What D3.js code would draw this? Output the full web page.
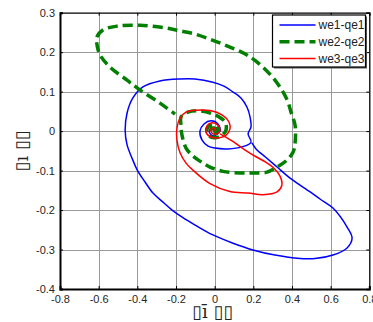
<!DOCTYPE html>
<html>
<head>
<meta charset="utf-8">
<script src="https://cdn.jsdelivr.net/npm/d3@7"></script>
<style>
  body { margin: 0; background: #fff; }
  svg { display: block; font-family: "Liberation Sans", Arial, sans-serif; }
  .grid line { stroke: #9a9a9a; stroke-width: 1; shape-rendering: crispEdges; }
  .tick-label { font-size: 11px; fill: #262626; }
</style>
</head>
<body>
<div id="chart"></div>
<script>
var xTicks = [-0.8, -0.6, -0.4, -0.2, 0, 0.2, 0.4, 0.6, 0.8],
    yTicks = [-0.4, -0.3, -0.2, -0.1, 0, 0.1, 0.2, 0.3];

var seriesNames = ["we1-qe1", "we2-qe2", "we3-qe3"];

// we1-qe1 (blue)
var blueX = [0.002,-0.009,-0.029,-0.009,0.028,0.017,-0.019,-0.055,-0.076,-0.065,-0.034,0.002,0.069,0.141,0.188,0.173,0.188,0.183,0.167,0.136,0.095,0.048,-0.009,-0.102,-0.179,-0.283,-0.371,-0.423,-0.453,-0.463,-0.453,-0.427,-0.401,-0.360,-0.319,-0.267,-0.220,-0.168,-0.101,-0.009,0.095,0.198,0.312,0.426,0.519,0.612,0.685,0.711,0.685,0.612,0.545,0.494,0.390,0.323,0.261,0.214,0.193];
var blueY = [0.000,0.008,0.000,-0.012,0.000,0.018,0.026,0.018,0.000,-0.023,-0.038,-0.043,-0.045,-0.040,-0.028,-0.007,0.010,0.036,0.061,0.084,0.099,0.114,0.124,0.132,0.132,0.127,0.112,0.084,0.046,0.003,-0.035,-0.069,-0.098,-0.129,-0.157,-0.180,-0.200,-0.218,-0.238,-0.263,-0.284,-0.301,-0.314,-0.322,-0.323,-0.314,-0.296,-0.271,-0.243,-0.195,-0.172,-0.154,-0.119,-0.091,-0.065,-0.045,-0.030];

// we2-qe2 (green dashed)
var greenX = [-0.009,0.002,-0.003,-0.019,-0.019,0.002,0.017,0.007,-0.019,-0.040,-0.034,-0.003,0.033,0.059,0.054,0.002,-0.071,-0.138,-0.174,-0.174,-0.169,-0.148,-0.117,-0.076,-0.024,0.043,0.131,0.198,0.271,0.323,0.375,0.406,0.416,0.416,0.395,0.375,0.323,0.250,0.167,0.079,-0.009,-0.102,-0.179,-0.251,-0.386,-0.505,-0.578,-0.609,-0.609,-0.593,-0.541,-0.453,-0.386,-0.283,-0.205];
var greenY = [0.000,0.003,0.008,0.005,-0.005,-0.007,0.000,0.013,0.015,0.005,-0.010,-0.017,-0.012,0.003,0.023,0.041,0.051,0.048,0.036,0.015,-0.010,-0.043,-0.061,-0.076,-0.091,-0.102,-0.106,-0.106,-0.104,-0.091,-0.073,-0.053,-0.030,0.015,0.048,0.079,0.122,0.162,0.193,0.213,0.230,0.246,0.254,0.261,0.268,0.266,0.256,0.238,0.220,0.193,0.162,0.129,0.104,0.071,0.043];

// we3-qe3 (red)
var redX = [0.028,0.090,0.152,0.214,0.266,0.307,0.338,0.348,0.323,0.250,0.173,0.079,-0.024,-0.112,-0.148,-0.179,-0.195,-0.195,-0.179,-0.148,-0.096,-0.024,0.038,0.074,0.079,0.059,0.023,-0.019,-0.045,-0.040,-0.014,0.017,0.028,0.012,-0.014,-0.019,-0.003,0.002];
var redY = [-0.007,-0.025,-0.046,-0.065,-0.079,-0.094,-0.114,-0.137,-0.154,-0.161,-0.157,-0.153,-0.133,-0.099,-0.081,-0.055,-0.023,0.008,0.033,0.048,0.053,0.052,0.041,0.023,0.005,-0.010,-0.017,-0.015,-0.002,0.013,0.021,0.015,0.003,-0.007,-0.005,0.005,0.008,0.000];

(function() {
  var width = 373, height = 322,
      pL = 60, pR = 369.3, pT = 12.7, pB = 289;

  var x = d3.scaleLinear().domain([-0.8, 0.8]).range([pL, pR]);
  var y = d3.scaleLinear().domain([-0.4, 0.3]).range([pB, pT]);
  var fmt = function(d) { return String(d); };

  var svg = d3.select("#chart").append("svg")
      .attr("width", width)
      .attr("height", height);

  // grid
  var grid = svg.append("g").attr("class", "grid");
  grid.selectAll(".gx").data(xTicks.slice(1, -1)).enter().append("line")
      .attr("x1", function(d) { return Math.round(x(d)) + 0.5; })
      .attr("x2", function(d) { return Math.round(x(d)) + 0.5; })
      .attr("y1", pT).attr("y2", pB);
  grid.selectAll(".gy").data(yTicks.slice(1, -1)).enter().append("line")
      .attr("y1", function(d) { return Math.round(y(d)) + 0.5; })
      .attr("y2", function(d) { return Math.round(y(d)) + 0.5; })
      .attr("x1", pL).attr("x2", pR);

  // curves
  function pts(xs, ys) {
    return xs.map(function(v, i) { return [v, ys[i]]; });
  }
  var line = d3.line()
      .x(function(d) { return x(d[0]); })
      .y(function(d) { return y(d[1]); })
      .curve(d3.curveCatmullRom.alpha(0.5));

  svg.append("clipPath").attr("id", "clip")
      .append("rect").attr("x", pL).attr("y", pT)
      .attr("width", pR - pL).attr("height", pB - pT);

  var plot = svg.append("g").attr("clip-path", "url(#clip)");

  plot.append("path")
      .attr("d", line(pts(blueX, blueY)))
      .attr("fill", "none").attr("stroke", "#0000ff").attr("stroke-width", 1.5);
  plot.append("path")
      .attr("d", line(pts(greenX, greenY)))
      .attr("fill", "none").attr("stroke", "#007f00").attr("stroke-width", 3.5)
      .attr("stroke-dasharray", "10,5");
  plot.append("path")
      .attr("d", line(pts(redX, redY)))
      .attr("fill", "none").attr("stroke", "#ff0000").attr("stroke-width", 1.5);

  // axes box
  var xAxisB = d3.axisBottom(x).tickValues(xTicks).tickSize(-3).tickFormat(fmt).tickPadding(6);
  var xAxisT = d3.axisTop(x).tickValues(xTicks).tickSize(-3).tickFormat("");
  var yAxisL = d3.axisLeft(y).tickValues(yTicks).tickSize(-3).tickFormat(fmt).tickPadding(5);
  var yAxisR = d3.axisRight(y).tickValues(yTicks).tickSize(-3).tickFormat("");

  function style(g, w) {
    g.select(".domain").attr("stroke", "#000").attr("stroke-width", w);
    g.selectAll(".tick line").attr("stroke", "#000");
    g.selectAll(".tick text").attr("class", "tick-label")
      .style("font-family", "'Liberation Sans', Arial, sans-serif");
  }

  svg.append("g").attr("transform", "translate(0," + pT + ")").call(xAxisT).call(style, 1.3);
  svg.append("g").attr("transform", "translate(" + pR + ",0)").call(yAxisR).call(style, 1.3);
  svg.append("g").attr("transform", "translate(0," + pB + ")").call(xAxisB).call(style, 2);
  svg.append("g").attr("transform", "translate(" + pL + ",0)").call(yAxisL).call(style, 2);

  // axis titles (garbled glyphs as in the source figure)
  svg.append("text")
      .attr("x", (pL + pR) / 2 - 2).attr("y", 318)
      .attr("text-anchor", "middle")
      .style("font-family", "'DejaVu Serif', serif").style("font-size", "18px")
      .attr("fill", "#222")
      .text("\u25AF\u012B \u25AF\u25AF");
  svg.append("text")
      .attr("transform", "translate(28," + ((pT + pB) / 2) + ") rotate(-90)")
      .attr("text-anchor", "middle")
      .style("font-family", "'DejaVu Serif', serif").style("font-size", "18px")
      .attr("fill", "#222")
      .text("\u25AF\u0131 \u25AF\u25AF");

  // legend
  var colors = ["#0000ff", "#007f00", "#ff0000"],
      widths = [1.5, 3.5, 1.5],
      dashes = [null, "10,5", null];
  var lg = svg.append("g").attr("transform", "translate(272.5,15)");
  lg.append("rect").attr("x", 1.5).attr("y", 1.5).attr("width", 93).attr("height", 52)
      .attr("fill", "#555");
  lg.append("rect").attr("width", 93).attr("height", 52)
      .attr("fill", "#fff").attr("stroke", "#000").attr("stroke-width", 1.2);
  var item = lg.selectAll(".item").data(seriesNames).enter().append("g")
      .attr("transform", function(d, i) { return "translate(0," + (10 + i * 16.7) + ")"; });
  item.append("line")
      .attr("x1", 7).attr("x2", 43).attr("y1", 0).attr("y2", 0)
      .attr("stroke", function(d, i) { return colors[i]; })
      .attr("stroke-width", function(d, i) { return widths[i]; })
      .attr("stroke-dasharray", function(d, i) { return dashes[i]; });
  item.append("text")
      .attr("x", 46).attr("y", 0).attr("dy", "0.35em")
      .style("font-size", "12px").attr("fill", "#222")
      .text(function(d) { return d; });
})();
</script>
</body>
</html>
